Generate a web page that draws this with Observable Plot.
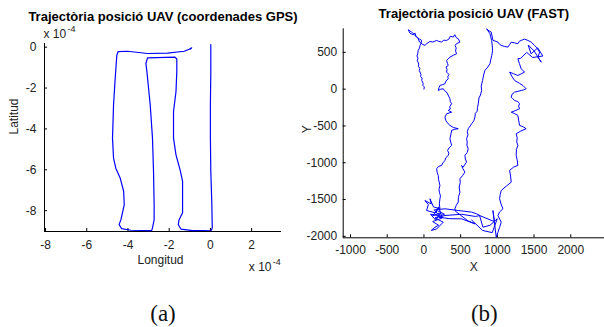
<!DOCTYPE html>
<html><head><meta charset="utf-8">
<script src="https://cdn.jsdelivr.net/npm/d3@7"></script>
<script src="https://cdn.jsdelivr.net/npm/@observablehq/plot@0.6"></script>
<style>
body{margin:0;background:#fff;}
#wrap{position:relative;width:604px;height:327px;overflow:hidden;background:#fff;}
#wrap svg{position:absolute;top:0;overflow:visible;}
</style></head><body><div id="wrap"></div>
<script>
// ---- Panel (a): GPS trajectory, values in units of 1e-4 degrees ----
const gpsTitle = "Trajectòria posició UAV (coordenades GPS)";
const gpsXLabel = "Longitud";
const gpsYLabel = "Latitud";
const gpsXDomain = [-8.05, 3.45];
const gpsYDomain = [-9.02, 0.18];
const gpsXTicks = [-8, -6, -4, -2, 0, 2];
const gpsYTicks = [0, -2, -4, -6, -8];
const gpsTrack = [
[0.02,0.13],[0.02,-1.2],[0.0,-2.83],[0.0,-4.45],[0.02,-6.08],[0.07,-7.7],[0.09,-8.84],[0.05,-8.96],
[-0.86,-8.98],[-1.43,-8.9],[-1.56,-8.68],[-1.52,-8.44],[-1.35,-8.1],[-1.35,-6.57],[-1.47,-6.0],
[-1.67,-5.27],[-1.79,-4.45],[-1.79,-3.15],[-1.67,-2.18],[-1.63,-1.2],[-1.63,-0.58],[-1.72,-0.49],
[-3.05,-0.52],[-3.13,-0.8],[-3.08,-1.2],[-2.92,-2.83],[-2.81,-4.45],[-2.76,-6.08],[-2.73,-7.7],
[-2.73,-8.44],[-2.81,-8.84],[-2.85,-8.98],[-3.86,-8.96],[-4.31,-8.88],[-4.43,-8.68],[-4.34,-8.44],
[-4.18,-7.7],[-4.21,-7.05],[-4.38,-6.4],[-4.59,-5.92],[-4.7,-5.43],[-4.75,-4.45],[-4.7,-2.83],
[-4.62,-1.53],[-4.54,-0.39],[-4.48,-0.22],[-4.02,-0.2],[-3.05,-0.31],[-2.08,-0.29],[-1.27,-0.2],
[-1.03,-0.1],[-0.91,-0.03],[-0.97,-0.1]
];
const gpsExponent = ["x 10", "-4"];
const gpsCaption = "(a)";

// ---- Panel (b): FAST trajectory ----
const fastTitle = "Trajectòria posició UAV (FAST)";
const fastXLabel = "X";
const fastYLabel = "Y";
const fastXDomain = [-1100, 2460];
const fastYDomain = [-2020, 820];
const fastXTicks = [-1000, -500, 0, 500, 1000, 1500, 2000];
const fastYTicks = [500, 0, -500, -1000, -1500, -2000];
const fastTrack = [
[0,0],[5,30],[-15,50],[-10,80],[-30,118],[-25,150],[-45,170],[-40,200],[-64,254],[-55,280],[-75,310],
[-70,340],[-91,390],[-80,420],[-95,450],[-85,480],[-78,526],[-60,560],[-54,594],[-40,620],[-31,662],
[-60,680],[-100,707],[-130,740],[-168,775],[-213,807],[-200,780],[-190,760],[-150,740],[-120,760],
[-110,720],[-80,690],[-60,640],[-20,610],[14,594],[40,620],[82,648],[120,640],[173,662],[200,650],
[240,640],[270,665],[309,662],[340,680],[360,720],[400,707],[420,740],[440,700],[467,685],[490,639],
[450,620],[422,594],[440,560],[430,520],[445,481],[400,460],[354,435],[330,410],[309,390],[320,350],
[331,322],[300,300],[315,270],[309,231],[340,200],[325,170],[331,141],[300,110],[286,73],[250,60],
[218,50],[205,20],[195,-18],[230,0],[263,5],[280,-20],[309,-41],[330,-80],[354,-130],[360,-170],
[377,-198],[350,-240],[360,-270],[331,-289],[377,-313],[309,-334],[286,-380],[300,-430],[330,-470],
[354,-493],[400,-520],[467,-538],[420,-545],[377,-561],[370,-600],[354,-674],[365,-720],[377,-765],
[340,-800],[322,-833],[340,-870],[331,-901],[300,-930],[286,-969],[260,-1000],[241,-1037],[200,-1050],
[173,-1082],[180,-1130],[195,-1173],[200,-1230],[218,-1309],[205,-1360],[210,-1400],[225,-1450],
[218,-1490],[210,-1560],[218,-1626],
[130,-1600],[82,-1490],[100,-1560],[14,-1513],[60,-1570],[36,-1649],[150,-1680],[200,-1600],[250,-1750],
[120,-1800],[200,-1850],[150,-1876],[100,-1920],[173,-1900],[263,-1808],[150,-1750],[280,-1700],[180,-1650],
[120,-1720],[230,-1680],[160,-1780],[90,-1700],[210,-1720],[140,-1640],
[286,-1626],[467,-1649],[650,-1671],[717,-1694],[763,-1717],[700,-1730],[513,-1700],[286,-1717],[200,-1740],
[350,-1760],[513,-1762],[695,-1830],[600,-1790],[430,-1660],[422,-1626],
[440,-1580],[467,-1536],[470,-1470],[490,-1400],[480,-1330],[495,-1270],[490,-1218],[530,-1170],
[558,-1128],[530,-1080],[513,-1037],[535,-1060],[560,-1020],[581,-992],[565,-950],[558,-901],[590,-860],
[603,-810],[585,-760],[590,-720],[581,-674],[600,-620],[590,-580],[603,-538],[630,-500],[650,-470],
[680,-430],[695,-380],[700,-330],[725,-300],[730,-250],[740,-200],[750,-120],[770,-80],[786,-18],
[780,40],[799,118],[810,180],[831,254],[870,300],[899,345],[910,400],[925,460],[935,526],[930,600],
[922,662],[910,710],[899,753],[854,821],[872,800],[917,775],[940,662],[980,650],[1008,639],[1030,610],
[1053,594],[1100,580],[1144,571],[1170,610],[1189,639],[1230,630],[1280,617],[1300,650],[1325,662],
[1370,680],[1416,662],[1460,640],[1507,594],[1540,560],[1576,503],[1553,435],[1598,367],
[1500,520],[1420,600],[1460,480],[1550,560],[1620,450],[1480,430],[1400,500],[1320,420],[1280,413],
[1300,350],[1325,277],[1371,231],[1330,210],[1280,186],[1220,210],[1167,231],[1200,170],[1235,118],
[1300,80],[1348,50],[1393,5],[1360,-10],[1325,-18],[1235,-41],[1200,-70],[1189,-109],[1210,-130],
[1235,-154],[1280,-170],[1303,-198],[1290,-230],[1303,-266],[1250,-290],[1189,-313],[1230,-330],
[1280,-357],[1290,-420],[1303,-493],[1350,-510],[1393,-538],[1320,-570],[1257,-606],[1270,-660],
[1265,-720],[1280,-765],[1260,-820],[1257,-901],[1270,-960],[1280,-1037],[1220,-1060],[1167,-1105],
[1180,-1180],[1189,-1264],[1120,-1320],[1053,-1377],[1040,-1430],[1030,-1490],[1050,-1560],[1076,-1626],
[1030,-1670],[1008,-1717],[1053,-1808],[1030,-1880],[1008,-1944],[985,-2012],
[940,-1649],[960,-1800],[758,-1717],[804,-1876],[900,-1850],[1000,-1760],[930,-1950],[800,-1920],[650,-1780]
];
const fastCaption = "(b)";

const wrap = document.getElementById("wrap");
const H = 327;

function panel(o) {
  const frameW = o.width - o.ml - o.mr;
  const frameH = H - o.mt - o.mb;
  const marks = [
    Plot.ruleX([o.xDomain[0]], {stroke: "#000", strokeWidth: 1}),
    Plot.ruleY([o.yDomain[0]], {stroke: "#000", strokeWidth: 1}),
    Plot.tickX(o.xTicks, {x: d => d, insetTop: frameH - 3, stroke: "#000"}),
    Plot.tickY(o.yTicks, {y: d => d, insetRight: frameW - 3, stroke: "#000"}),
    Plot.axisX(o.xTicks, {tickSize: 0, tickPadding: o.xPad, tickFormat: d => String(d), label: null, fontSize: 12, fill: "#222"}),
    Plot.axisY(o.yTicks, {tickSize: 0, tickPadding: o.yPad, tickFormat: d => String(d), label: null, fontSize: 12, fill: "#222"}),
    Plot.line(o.track, {x: d => d[0], y: d => d[1], stroke: "#0000ff", strokeWidth: o.sw}),
    Plot.text([o.title], {text: d => d, frameAnchor: "top", dy: o.titleDy, fontSize: 13, fontWeight: "bold", lineAnchor: "middle", fill: "#000"}),
    Plot.text([o.xLabel], {text: d => d, frameAnchor: "bottom", dx: o.xLabDx, dy: o.xLabDy, fontSize: 12, lineAnchor: "middle", fill: "#222"}),
    Plot.text([o.yLabel], {text: d => d, frameAnchor: "left", dx: o.yLabDx, dy: o.yLabDy, rotate: -90, fontSize: 12, lineAnchor: "middle", fill: "#222"}),
    Plot.text([o.caption], {text: d => d, frameAnchor: "bottom", dx: o.capDx, dy: o.capDy, fontSize: 23, fontFamily: "'Liberation Serif', serif", lineAnchor: "middle", fill: "#111"})
  ];
  if (o.exponent) {
    const [base, sup] = o.exponent;
    marks.push(
      Plot.text([base], {text: d => d, frameAnchor: "top-left", textAnchor: "start", dx: -1, dy: -9, fontSize: 12, lineAnchor: "middle", fill: "#222"}),
      Plot.text([sup], {text: d => d, frameAnchor: "top-left", textAnchor: "start", dx: 23, dy: -14.5, fontSize: 9, lineAnchor: "middle", fill: "#222"}),
      Plot.text([base], {text: d => d, frameAnchor: "bottom-right", textAnchor: "start", dx: -32.7, dy: 35.7, fontSize: 12, lineAnchor: "middle", fill: "#222"}),
      Plot.text([sup], {text: d => d, frameAnchor: "bottom-right", textAnchor: "start", dx: -8.7, dy: 30.5, fontSize: 9, lineAnchor: "middle", fill: "#222"})
    );
  }
  const svg = Plot.plot({
    width: o.width, height: H,
    marginLeft: o.ml, marginRight: o.mr, marginTop: o.mt, marginBottom: o.mb,
    x: {domain: o.xDomain},
    y: {domain: o.yDomain},
    style: {fontFamily: "'Liberation Sans', Arial, sans-serif", fontSize: "12px", background: "transparent", overflow: "visible"},
    marks
  });
  svg.style.left = o.left + "px";
  wrap.appendChild(svg);
}

panel({
  left: 0, width: 302, ml: 44, mr: 21, mt: 43, mb: H - 231,
  xDomain: gpsXDomain, yDomain: gpsYDomain, xTicks: gpsXTicks, yTicks: gpsYTicks,
  track: gpsTrack, sw: 1.2, title: gpsTitle, titleDy: -27,
  xLabel: gpsXLabel, xLabDx: -2.5, xLabDy: 28.3, xPad: 9, yPad: 8,
  yLabel: gpsYLabel, yLabDx: -30, yLabDy: -3,
  caption: gpsCaption, capDx: 0, capDy: 82,
  exponent: gpsExponent
});

panel({
  left: 300, width: 304, ml: 42.7, mr: 0, mt: 28.3, mb: H - 237.3,
  xDomain: fastXDomain, yDomain: fastYDomain, xTicks: fastXTicks, yTicks: fastYTicks,
  track: fastTrack, sw: 1, title: fastTitle, titleDy: -14.8,
  xLabel: fastXLabel, xLabDx: 0, xLabDy: 29.4, xPad: 7.5, yPad: 6,
  yLabel: fastYLabel, yLabDx: -36.5, yLabDy: 0,
  caption: fastCaption, capDx: 10.5, capDy: 75.7,
  exponent: null
});
</script></body></html>
